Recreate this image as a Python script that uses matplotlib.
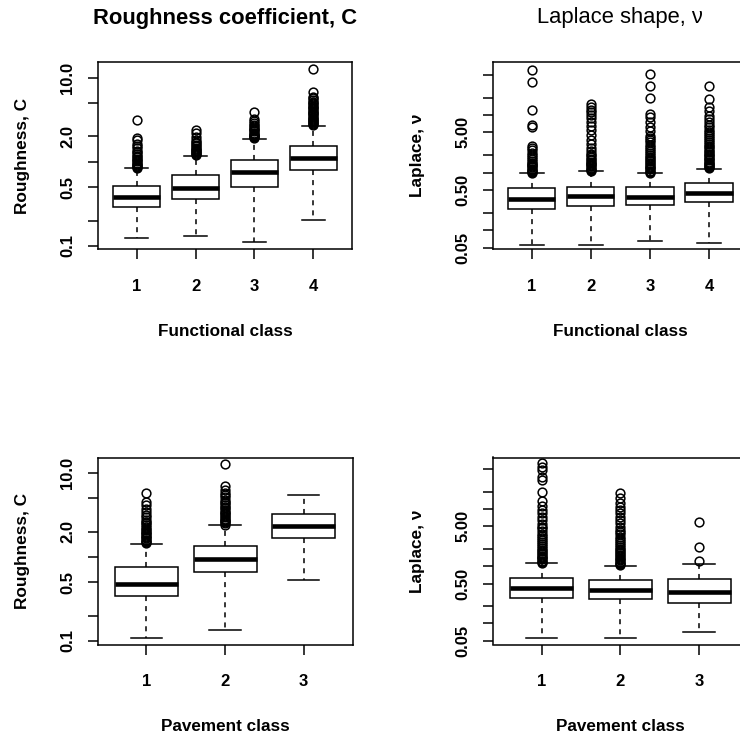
import matplotlib
matplotlib.use('Agg')
import matplotlib.pyplot as plt

plt.rcParams['font.family'] = ['Liberation Sans', 'DejaVu Sans']

W, H = 740, 736

# ---- data ----
func_classes = ['1', '2', '3', '4']
pave_classes = ['1', '2', '3']

# each box: lower whisker, Q1, median, Q3, upper whisker
rough_func_stats = [
    [0.126, 0.293, 0.385, 0.516, 0.836],
    [0.133, 0.361, 0.493, 0.690, 1.18],
    [0.110, 0.502, 0.750, 1.06, 1.87],
    [0.204, 0.790, 1.10, 1.55, 2.69],
]
rough_func_out = [
    [0.85, 0.87, 0.9, 0.92, 0.95, 0.98, 1.01, 1.05, 1.09, 1.13, 1.18, 1.23, 1.29,
     1.36, 1.44, 1.52, 1.63, 1.82, 1.9, 3.14],
    [1.2, 1.23, 1.26, 1.3, 1.34, 1.38, 1.42, 1.47, 1.52, 1.58, 1.65, 1.72, 1.82,
     1.96, 2.18, 2.39],
    [1.9, 1.95, 2.0, 2.05, 2.1, 2.16, 2.22, 2.3, 2.38, 2.46, 2.55, 2.65, 2.76, 2.9,
     3.05, 3.2, 3.94],
    [2.72, 2.8, 2.88, 2.96, 3.05, 3.14, 3.24, 3.34, 3.45, 3.56, 3.68, 3.8, 3.93,
     4.06, 4.2, 4.35, 4.5, 4.66, 4.83, 5.0, 5.2, 5.4, 5.65, 5.94, 6.8, 12.5],
]

lap_func_stats = [
    [0.0565, 0.238, 0.352, 0.542, 0.98],
    [0.0565, 0.262, 0.387, 0.572, 1.05],
    [0.0663, 0.273, 0.382, 0.565, 0.98],
    [0.0612, 0.312, 0.443, 0.663, 1.18],
]
lap_func_out = [
    [1.0, 1.04, 1.08, 1.13, 1.18, 1.23, 1.29, 1.35, 1.42, 1.5, 1.6, 1.72, 1.85,
     2.0, 2.2, 2.45, 2.7, 2.92, 6.29, 6.81, 12.3, 37.2, 60.3],
    [1.08, 1.12, 1.17, 1.22, 1.28, 1.34, 1.41, 1.48, 1.56, 1.65, 1.75, 1.87, 2.0,
     2.15, 2.38, 2.7, 3.2, 3.7, 4.55, 5.4, 6.37, 7.5, 8.92, 10.0, 11.2, 12.4,
     13.7, 15.7],
    [1.0, 1.04, 1.09, 1.14, 1.2, 1.26, 1.33, 1.4, 1.48, 1.57, 1.67, 1.78, 1.9,
     2.03, 2.18, 2.35, 2.55, 2.78, 3.05, 3.35, 3.7, 4.0, 4.37, 5.2, 6.29, 7.5,
     9.17, 10.5, 20.0, 32.5, 50.7],
    [1.2, 1.25, 1.3, 1.36, 1.42, 1.49, 1.56, 1.64, 1.73, 1.82, 1.92, 2.03, 2.15,
     2.28, 2.42, 2.58, 2.75, 2.95, 3.15, 3.4, 3.65, 3.95, 4.3, 4.7, 5.1, 5.6,
     6.2, 6.8, 7.49, 8.5, 9.8, 12.0, 13.7, 19.2, 31.6],
]

rough_pave_stats = [
    [0.1076, 0.343, 0.481, 0.767, 1.43],
    [0.136, 0.669, 0.955, 1.36, 2.40],
    [0.527, 1.70, 2.36, 3.25, 5.52],
]
rough_pave_out = [
    [1.45, 1.5, 1.55, 1.6, 1.66, 1.72, 1.78, 1.85, 1.92, 2.0, 2.08, 2.17, 2.27,
     2.38, 2.5, 2.63, 2.78, 2.95, 3.15, 3.43, 3.75, 4.12, 4.52, 5.83],
    [2.42, 2.5, 2.58, 2.67, 2.76, 2.86, 2.97, 3.08, 3.2, 3.33, 3.47, 3.62, 3.78,
     3.95, 4.13, 4.33, 4.55, 4.8, 5.1, 5.45, 5.8, 6.22, 6.94, 12.6],
    [],
]

lap_pave_stats = [
    [0.0557, 0.283, 0.413, 0.625, 1.13],
    [0.0557, 0.272, 0.386, 0.577, 1.03],
    [0.0719, 0.231, 0.360, 0.593, 1.10],
]
lap_pave_out = [
    [1.15, 1.2, 1.26, 1.32, 1.39, 1.46, 1.54, 1.63, 1.73, 1.84, 1.96, 2.1, 2.25,
     2.42, 2.62, 2.85, 3.1, 3.4, 3.75, 4.15, 4.6, 4.95, 5.6, 6.4, 7.43, 8.5,
     9.71, 11.5, 14.2, 19.8, 32.6, 37.3, 48.7, 55.7, 63.8],
    [1.05, 1.1, 1.15, 1.21, 1.27, 1.34, 1.41, 1.49, 1.58, 1.68, 1.79, 1.91, 2.05,
     2.2, 2.37, 2.56, 2.78, 3.02, 3.3, 3.62, 4.0, 4.4, 4.9, 5.67, 6.5, 7.43,
     8.5, 9.71, 11.0, 12.7, 15.6, 19.0],
    [1.26, 2.16, 5.98],
]

rough_ticks = [0.1, 0.2, 0.5, 1, 2, 5, 10]
rough_ticklabels = ['0.1', '', '0.5', '', '2.0', '', '10.0']
lap_ticks = [0.05, 0.1, 0.2, 0.5, 1, 2, 5, 10, 20, 50]
lap_ticklabels = ['0.05', '', '', '0.50', '', '', '5.00', '', '', '']

LW = 1.1


def px_axes(fig, l, t, r, b):
    return fig.add_axes([l / W, 1 - b / H, (r - l) / W, (b - t) / H])


def draw_panel(fig, box, stats, outs, labels, ylim, yticks, yticklabels,
               ylabel, xlabel):
    l, t, r, b = box
    ax = px_axes(fig, l, t, r, b)
    bxp_stats = []
    for s, o in zip(stats, outs):
        bxp_stats.append(dict(whislo=s[0], q1=s[1], med=s[2], q3=s[3],
                              whishi=s[4], fliers=o))
    n = len(stats)
    ax.bxp(bxp_stats, positions=range(1, n + 1), widths=0.8, capwidths=0.4,
           patch_artist=True,
           boxprops=dict(facecolor='white', edgecolor='black', linewidth=LW),
           medianprops=dict(color='black', linewidth=3.3, solid_capstyle='butt'),
           whiskerprops=dict(color='black', linewidth=LW, linestyle=(0, (3.3, 3.3))),
           capprops=dict(color='black', linewidth=LW),
           flierprops=dict(marker='o', markerfacecolor='none',
                           markeredgecolor='black', markersize=6.3,
                           markeredgewidth=LW, linestyle='none'))
    ax.set_yscale('log')
    ax.set_xlim(0.5 - 0.04 * n, n + 0.5 + 0.04 * n)
    ax.set_ylim(*ylim)
    ax.set_xticks(range(1, n + 1))
    ax.set_xticklabels(labels, fontsize=12, fontweight='bold')
    ax.set_yticks(yticks)
    ax.set_yticklabels(yticklabels, fontsize=12, fontweight='bold',
                       rotation=90, va='center')
    ax.yaxis.set_minor_locator(matplotlib.ticker.NullLocator())
    ax.tick_params(axis='x', length=7.2, width=LW, pad=14)
    ax.tick_params(axis='y', length=7.2, width=LW, pad=9)
    for sp in ax.spines.values():
        sp.set_linewidth(LW)
    fig.text((l - 71) / W, 1 - (t + b) / 2 / H, ylabel, rotation=90,
             rotation_mode='anchor', ha='center', va='baseline',
             fontsize=12.4, fontweight='bold')
    fig.text((l + r) / 2 / W, 1 - (b + 86.5) / H, xlabel, ha='center',
             va='baseline', fontsize=12.3, fontweight='bold')
    return ax


fig = plt.figure(figsize=(W / 100, H / 100), dpi=100)

draw_panel(fig, (97.7, 62.3, 352.3, 249.3), rough_func_stats, rough_func_out,
           func_classes, (0.0913, 15.2), rough_ticks, rough_ticklabels,
           'Roughness, C', 'Functional class')
draw_panel(fig, (492.7, 62.3, 748, 249.3), lap_func_stats, lap_func_out,
           func_classes, (0.0467, 82.5), lap_ticks, lap_ticklabels,
           'Laplace, ν', 'Functional class')
draw_panel(fig, (97.7, 457.5, 352.5, 644.5), rough_pave_stats, rough_pave_out,
           pave_classes, (0.0906, 15.25), rough_ticks, rough_ticklabels,
           'Roughness, C', 'Pavement class')
draw_panel(fig, (492.7, 457.5, 748, 644.5), lap_pave_stats, lap_pave_out,
           pave_classes, (0.0429, 80.4), lap_ticks, lap_ticklabels,
           'Laplace, ν', 'Pavement class')

fig.text(225 / W, 1 - 24 / H, 'Roughness coefficient, C', ha='center',
         va='baseline', fontsize=15.8, fontweight='bold')
fig.text(620.4 / W, 1 - 23 / H, 'Laplace shape, ν', ha='center',
         va='baseline', fontsize=15.8)

fig.savefig('out.png', dpi=100)
